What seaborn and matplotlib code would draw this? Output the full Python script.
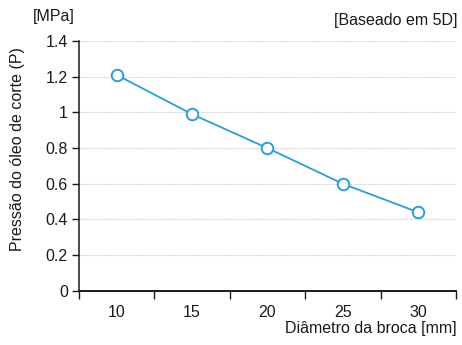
import matplotlib
matplotlib.use("Agg")
import matplotlib.pyplot as plt
import seaborn as sns
import pandas as pd
import numpy as np

# Drill diameter [mm] vs cutting oil pressure [MPa]
diameters = ["10", "15", "20", "25", "30"]
pressures = [1.21, 0.99, 0.80, 0.60, 0.44]
y_ticks = [0, 0.2, 0.4, 0.6, 0.8, 1.0, 1.2, 1.4]
y_tick_labels = ["0", "0.2", "0.4", "0.6", "0.8", "1", "1.2", "1.4"]

sns.set_theme(style="white")
plt.rcParams["font.family"] = ["Liberation Sans", "DejaVu Sans"]

df = pd.DataFrame({"d": diameters, "p": pressures})
color = "#25a0da"
ink = "#1a1a1a"
fs = 11.5

fig = plt.figure(figsize=(4.62, 3.45), dpi=100)
ax = fig.add_axes([0.171, 0.157, 0.816, 0.724])

sns.pointplot(data=df, x="d", y="p", order=diameters, color=color, ax=ax,
              markers="o", linewidth=1.3, markersize=8.3,
              markerfacecolor="white", markeredgecolor=color,
              markeredgewidth=1.4, errorbar=None)

ax.set_xlim(-0.5, len(diameters) - 0.5)
ax.set_ylim(0, 1.4)
ax.set_yticks(y_ticks)
ax.set_yticklabels(y_tick_labels)
ax.set_xticks(range(len(diameters)))
ax.set_xticklabels(diameters)
ax.set_xticks(np.arange(-0.5, len(diameters)), minor=True)

for v in y_ticks[1:]:
    ax.axhline(v, color="#c4c4c4", lw=0.8, ls=(0, (1, 1.2)), zorder=0)

for s in ["top", "right"]:
    ax.spines[s].set_visible(False)
ax.spines["left"].set_color(ink)
ax.spines["left"].set_linewidth(1.1)
ax.spines["bottom"].set_color(ink)
ax.spines["bottom"].set_linewidth(1.4)

ax.tick_params(axis="y", which="major", direction="out", length=5, width=1,
               color=ink, labelsize=fs, labelcolor=ink, pad=3, left=True)
ax.tick_params(axis="x", which="major", length=0, labelsize=fs,
               labelcolor=ink, pad=10.5, bottom=True)
ax.tick_params(axis="x", which="minor", direction="out", length=6, width=1,
               color=ink, bottom=True)

ax.set_xlabel("")
ax.set_ylabel("")
fig.text(18 / 462, 1 - 149 / 345, "Pressão do óleo de corte (P)", rotation=90,
         ha="center", va="center", fontsize=fs, color=ink)

fig.text(457 / 462, 1 - 329 / 345, "Diâmetro da broca [mm]", ha="right", va="center",
         fontsize=fs, color=ink)
fig.text(33 / 462, 1 - 16 / 345, "[MPa]", ha="left", va="center",
         fontsize=fs, color=ink)
fig.text(457 / 462, 1 - 21 / 345, "[Baseado em 5D]", ha="right", va="center",
         fontsize=fs, color=ink)

fig.savefig("out.png", dpi=100)
